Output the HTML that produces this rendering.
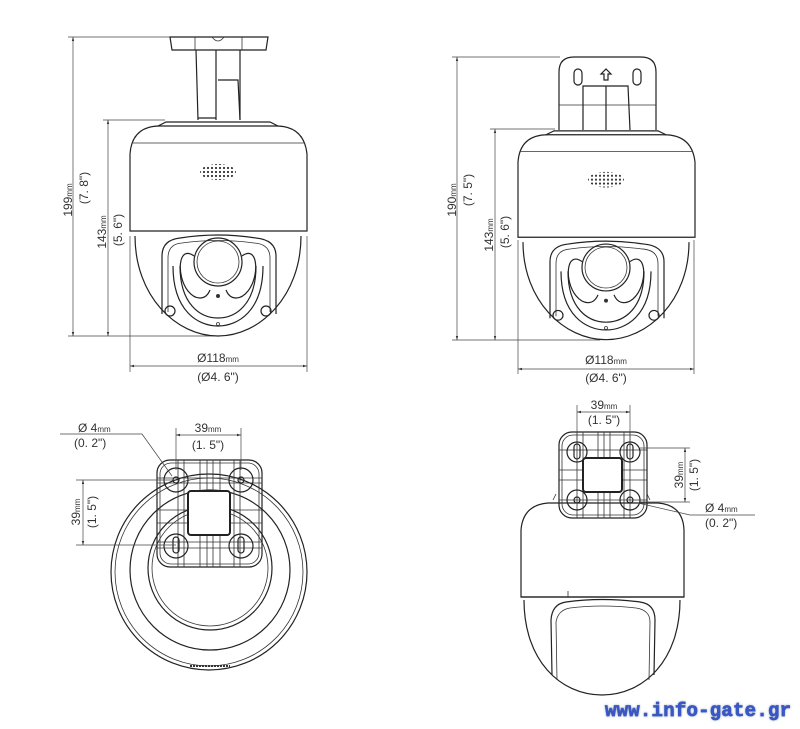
<!DOCTYPE html>
<html><head><meta charset="utf-8"><style>
html,body{margin:0;padding:0;background:#fff;}
svg{display:block;font-family:"Liberation Sans",sans-serif;}
.l{fill:none;stroke:#222;stroke-width:1.2}
.t{fill:none;stroke:#333;stroke-width:0.8}
.d{fill:none;stroke:#444;stroke-width:0.7}
.tx{fill:#333;font-size:12px}
</style></head><body>
<svg width="800" height="729" viewBox="0 0 800 729" xmlns="http://www.w3.org/2000/svg">
<defs>
<marker id="a" viewBox="0 0 10 10" refX="10" refY="5" markerWidth="6" markerHeight="6" orient="auto-start-reverse"><path d="M0,2 L10,5 L0,8 z" fill="#333"/></marker>
<pattern id="dots" width="4" height="4" patternUnits="userSpaceOnUse"><circle cx="2" cy="2" r="1.1" fill="#333"/></pattern>
<g id="cam">
 <path class="l" d="M-60,0 L-52,-4 L52,-4 L60,0"/>
 <path class="l" d="M-88,105 L-88,28 Q-86,0 -58,0 L58,0 Q86,0 89,28 L89,105 Z"/>
 <line class="t" x1="-86" y1="17" x2="87" y2="17"/>
 <ellipse cx="0" cy="46" rx="18" ry="8" fill="url(#dots)"/>
 <path class="l" d="M-83,110 C-83,170 -42,210 0,210 C42,210 83,170 83,110"/>
 <path class="l" d="M-56,188 L-56,130 Q-56,114 -38,112 Q0,106 38,112 Q58,114 58,130 L58,188"/>
 <path class="t" d="M-50,186 L-50,132 Q-50,118 -36,117 Q0,112 36,117 Q52,118 52,132 L52,186"/>
 <path class="l" d="M-45,140 C-45,185 -20,200 0,200 C20,200 45,185 45,140"/>
 <path class="l" d="M-38,140 C-38,178 -18,192 0,192 C18,192 38,178 38,140"/>
 <path class="l" d="M-24,130 C-40,118 -42,150 -30,165 C-22,175 -12,174 -8,164"/>
 <path class="l" d="M24,130 C40,118 42,150 30,165 C22,175 12,174 8,164"/>
 <circle class="l" cx="0" cy="136" r="24" stroke-width="2"/>
 <circle class="t" cx="0" cy="136" r="21"/>
 <circle cx="0" cy="170" r="2" fill="#333"/>
 <circle class="l" cx="-48" cy="185" r="5" stroke-width="2"/>
 <circle class="l" cx="48" cy="185" r="5" stroke-width="2"/>
 <circle class="t" cx="0" cy="198" r="1.5"/>
</g>
</defs>

<!-- TOP LEFT -->
<line class="d" x1="68" y1="37" x2="170" y2="37"/>
<line class="d" x1="73" y1="37" x2="73" y2="336" marker-start="url(#a)" marker-end="url(#a)"/>
<line class="d" x1="68" y1="336" x2="220" y2="336"/>
<line class="d" x1="103" y1="120" x2="165" y2="120"/>
<line class="d" x1="108" y1="120" x2="108" y2="336" marker-start="url(#a)" marker-end="url(#a)"/>
<text class="tx" transform="translate(72,200) rotate(-90)" text-anchor="middle">199<tspan font-size="8">mm</tspan></text>
<text class="tx" transform="translate(88,188) rotate(-90)" text-anchor="middle">(7. 8")</text>
<text class="tx" transform="translate(106,232) rotate(-90)" text-anchor="middle">143<tspan font-size="8">mm</tspan></text>
<text class="tx" transform="translate(122,230) rotate(-90)" text-anchor="middle">(5. 6")</text>
<path class="l" d="M170,37 L268,37 L266,50 L172,50 Z"/>
<line class="t" x1="195" y1="37" x2="195" y2="50"/><line class="t" x1="242" y1="37" x2="242" y2="50"/>
<path class="t" d="M212,37 Q218,45 224,37"/>
<path class="l" d="M196,50 L198,120 M240,50 L240,120 M216,50 L216,120"/>
<path class="l" d="M218,80 L238,80 L240,120 M198,118 L216,118"/>
<use href="#cam" x="218" y="126"/>
<line class="d" x1="130" y1="236" x2="130" y2="372"/>
<line class="d" x1="307" y1="236" x2="307" y2="372"/>
<line class="d" x1="130" y1="366" x2="307" y2="366" marker-start="url(#a)" marker-end="url(#a)"/>
<text class="tx" x="218" y="362" text-anchor="middle">Ø118<tspan font-size="8">mm</tspan></text>
<text class="tx" x="218" y="381" text-anchor="middle">(Ø4. 6")</text>

<!-- TOP RIGHT -->
<line class="d" x1="452" y1="57" x2="560" y2="57"/>
<line class="d" x1="457" y1="57" x2="457" y2="340" marker-start="url(#a)" marker-end="url(#a)"/>
<line class="d" x1="452" y1="340" x2="600" y2="340"/>
<line class="d" x1="490" y1="129" x2="555" y2="129"/>
<line class="d" x1="495" y1="129" x2="495" y2="340" marker-start="url(#a)" marker-end="url(#a)"/>
<text class="tx" transform="translate(456,200) rotate(-90)" text-anchor="middle">190<tspan font-size="8">mm</tspan></text>
<text class="tx" transform="translate(472,190) rotate(-90)" text-anchor="middle">(7. 5")</text>
<text class="tx" transform="translate(493,235) rotate(-90)" text-anchor="middle">143<tspan font-size="8">mm</tspan></text>
<text class="tx" transform="translate(509,232) rotate(-90)" text-anchor="middle">(5. 6")</text>
<path class="l" d="M559,130 L559,72 Q559,57 574,57 L641,57 Q656,57 656,72 L656,130"/>
<line class="t" x1="559" y1="105" x2="656" y2="105"/>
<path class="l" d="M583,130 L583,86 L628,86 L630,130 M606,86 L606,130"/>
<rect class="l" x="574" y="69" width="8" height="16" rx="4"/>
<rect class="l" x="633" y="69" width="8" height="16" rx="4"/>
<path class="l" d="M604,80 L604,74 L601,74 L606,69 L611,74 L608,74 L608,80 Z"/>
<use href="#cam" x="606" y="135" transform="translate(0,3) scale(1,0.976)"/>
<line class="d" x1="518" y1="240" x2="518" y2="374"/>
<line class="d" x1="694" y1="240" x2="694" y2="374"/>
<line class="d" x1="518" y1="369" x2="694" y2="369" marker-start="url(#a)" marker-end="url(#a)"/>
<text class="tx" x="606" y="364" text-anchor="middle">Ø118<tspan font-size="8">mm</tspan></text>
<text class="tx" x="606" y="382" text-anchor="middle">(Ø4. 6")</text>

<!-- BOTTOM LEFT -->
<circle class="l" cx="209" cy="572" r="98"/>
<circle class="t" cx="209" cy="572" r="94"/>
<circle class="l" cx="210" cy="570" r="80"/>
<circle class="l" cx="210" cy="568" r="62"/>
<circle class="t" cx="210" cy="568" r="58"/>
<line x1="190" y1="666" x2="230" y2="666" stroke="#333" stroke-width="2" stroke-dasharray="2 1"/>
<rect class="l" x="157" y="460" width="105" height="107" rx="13" fill="#fff"/>
<rect class="t" x="160" y="463" width="99" height="101" rx="11"/>
<path class="t" d="M157,478 H262 M157,483 H262 M157,510 H262 M157,523 H262 M157,542 H262 M157,548 H262 M178,460 V567 M184,460 V567 M200,460 V567 M207,460 V567 M213,460 V567 M220,460 V567 M234,460 V567 M240,460 V567" stroke-width="0.6"/>
<rect x="188" y="491" width="42" height="44" rx="3" fill="#fff" stroke="#222" stroke-width="2"/>
<circle class="l" cx="176" cy="480" r="12" fill="#fff"/><circle class="l" cx="176" cy="480" r="3"/>
<circle class="l" cx="241" cy="480" r="12" fill="#fff"/><circle class="l" cx="241" cy="480" r="3"/>
<circle class="l" cx="176" cy="546" r="12" fill="#fff"/><rect class="l" x="173" y="537" width="6" height="16" rx="3"/>
<circle class="l" cx="241" cy="546" r="12" fill="#fff"/><rect class="l" x="238" y="537" width="6" height="16" rx="3"/>
<polyline class="d" points="60,434 142,434 172,476"/>
<text class="tx" x="78" y="432">Ø 4<tspan font-size="8">mm</tspan></text>
<text class="tx" x="74" y="447">(0. 2")</text>
<line class="d" x1="176" y1="428" x2="176" y2="470"/>
<line class="d" x1="241" y1="428" x2="241" y2="470"/>
<line class="d" x1="176" y1="435" x2="241" y2="435" marker-start="url(#a)" marker-end="url(#a)"/>
<text class="tx" x="208" y="432" text-anchor="middle">39<tspan font-size="8">mm</tspan></text>
<text class="tx" x="208" y="449" text-anchor="middle">(1. 5")</text>
<line class="d" x1="76" y1="480" x2="176" y2="480"/>
<line class="d" x1="76" y1="545" x2="176" y2="545"/>
<line class="d" x1="83" y1="480" x2="83" y2="545" marker-start="url(#a)" marker-end="url(#a)"/>
<text class="tx" transform="translate(80,512) rotate(-90)" text-anchor="middle">39<tspan font-size="8">mm</tspan></text>
<text class="tx" transform="translate(96,512) rotate(-90)" text-anchor="middle">(1. 5")</text>

<!-- BOTTOM RIGHT -->
<path class="l" d="M521,597 L521,530 Q523,505 548,503 L658,503 Q683,505 684,530 L684,597 Z"/>
<path class="l" d="M524,600 C524,660 560,695 602,695 C644,695 680,660 680,600"/>
<line class="l" x1="521" y1="597" x2="684" y2="597"/>
<line class="t" x1="568" y1="591" x2="568" y2="597"/>
<path class="l" d="M552,675 L551,620 Q552,604 566,602 Q602,597 640,602 Q655,604 655,620 L654,675"/>
<path class="t" d="M557,680 L556,622 Q558,610 570,608 Q602,604 636,608 Q650,610 650,622 L649,680"/>
<path class="t" d="M553,500 L556,494 M650,500 L647,494"/>
<rect class="l" x="559" y="432" width="88" height="86" rx="13" fill="#fff"/>
<rect class="t" x="562" y="435" width="82" height="80" rx="11"/>
<path class="t" d="M559,450 H647 M559,470 H647 M559,480 H647 M559,500 H647 M577,432 V518 M583,432 V518 M598,432 V518 M604,432 V518 M610,432 V518 M624,432 V518 M630,432 V518" stroke-width="0.6"/>
<rect x="583" y="458" width="39" height="34" rx="3" fill="#fff" stroke="#222" stroke-width="2"/>
<circle class="l" cx="577" cy="452" r="10" fill="#fff"/><rect class="l" x="574" y="444" width="6" height="15" rx="3"/>
<circle class="l" cx="630" cy="452" r="10" fill="#fff"/><rect class="l" x="627" y="444" width="6" height="15" rx="3"/>
<circle class="l" cx="577" cy="500" r="10" fill="#fff"/><circle class="l" cx="577" cy="500" r="3"/>
<circle class="l" cx="630" cy="500" r="10" fill="#fff"/><circle class="l" cx="630" cy="500" r="3"/>
<line class="d" x1="577" y1="405" x2="577" y2="440"/>
<line class="d" x1="630" y1="405" x2="630" y2="440"/>
<line class="d" x1="577" y1="412" x2="630" y2="412" marker-start="url(#a)" marker-end="url(#a)"/>
<text class="tx" x="604" y="409" text-anchor="middle">39<tspan font-size="8">mm</tspan></text>
<text class="tx" x="604" y="424" text-anchor="middle">(1. 5")</text>
<line class="d" x1="640" y1="448" x2="690" y2="448"/>
<line class="d" x1="640" y1="502" x2="690" y2="502"/>
<line class="d" x1="685" y1="448" x2="685" y2="502" marker-start="url(#a)" marker-end="url(#a)"/>
<text class="tx" transform="translate(683,475) rotate(-90)" text-anchor="middle">39<tspan font-size="8">mm</tspan></text>
<text class="tx" transform="translate(698,475) rotate(-90)" text-anchor="middle">(1. 5")</text>
<polyline class="d" points="638,503 690,515 755,515"/>
<text class="tx" x="705" y="512">Ø 4<tspan font-size="8">mm</tspan></text>
<text class="tx" x="705" y="527">(0. 2")</text>

<text x="605" y="716" font-family="Liberation Mono, monospace" font-weight="bold" font-size="19" fill="#3a57c4" stroke="#3a57c4" stroke-width="0.7" textLength="186" style="filter:drop-shadow(0 0 1px #9ab)">www.info-gate.gr</text>
</svg>
</body></html>
